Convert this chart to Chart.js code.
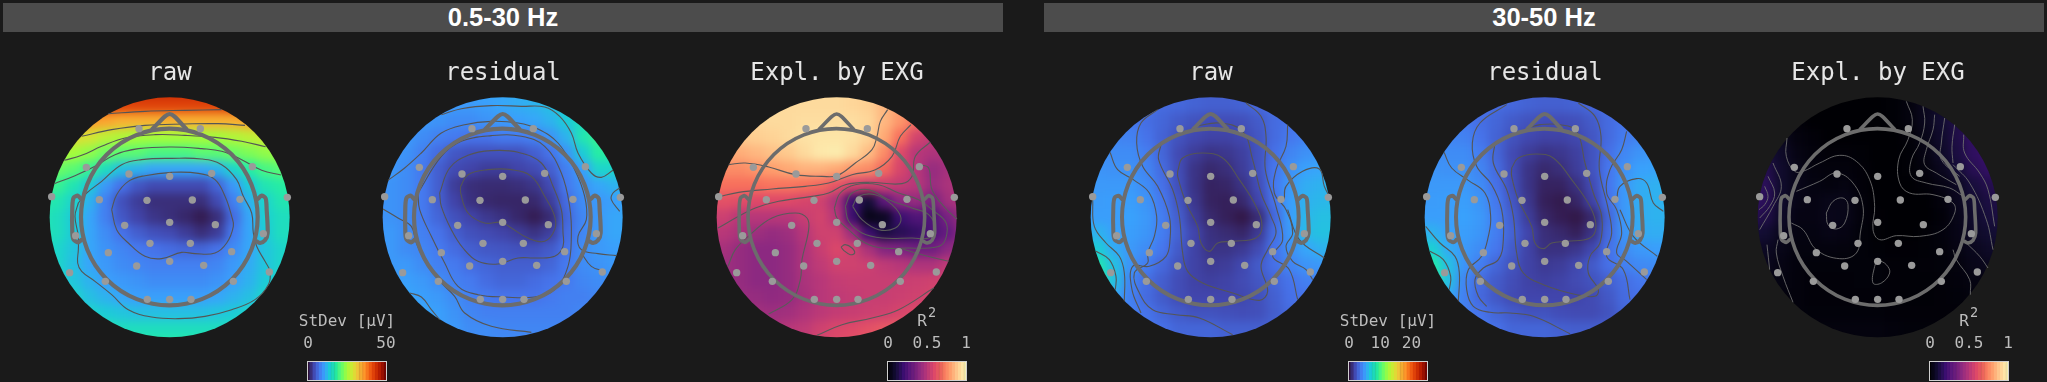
<!DOCTYPE html>
<html>
<head>
<meta charset="utf-8">
<title>Topomaps</title>
<script src="https://cdn.jsdelivr.net/npm/chart.js@4"></script>
<style>
  html, body { margin: 0; padding: 0; background: #1a1a1a; }
  body { position: relative; width: 2047px; height: 382px; overflow: hidden; }
  canvas { position: absolute; }
  .band {
    position: absolute; top: 3px; height: 29px; background: #4c4c4c;
    color: #fff; text-align: center;
    font: bold 25.5px/29px "Liberation Sans", Arial, sans-serif;
  }
</style>
</head>
<body>
<div class="band" style="left:3px;width:1000px">0.5-30 Hz</div>
<div class="band" style="left:1044px;width:1000px">30-50 Hz</div>
<script>
// cell centres of the heat grids, in head-plot units (3 units = 1 px, head outline radius 266)
const gridX = [-10, 38, 86, 134, 182, 230, 278, 326, 374, 422, 470, 518, 566, 614, 662, 710, 758];
const gridY = [-11, 37, 85, 133, 181, 229, 277, 325, 373, 421, 469, 517, 565, 613, 661, 709, 757];

const rawLow = [
  [46, 46, 46, 46, 46, 45, 45, 45, 45, 45, 45, 45, 46, 46, 46, 46, 46],
  [45, 45, 45, 44, 43, 42, 42, 42, 42, 42, 42, 42, 43, 44, 45, 45, 45],
  [40, 40, 38, 36, 35, 34, 34, 34, 34, 34, 34, 34, 34, 35, 37, 38, 38],
  [32, 31, 30, 29, 27, 26, 25, 25, 25, 25, 25, 25, 26, 27, 28, 29, 29],
  [27, 26, 25, 24, 22, 21, 21, 20, 20, 20, 21, 21, 22, 23, 24, 25, 25],
  [23, 22, 21, 19, 16, 13, 12, 11, 11, 11, 11, 12, 15, 18, 20, 21, 21],
  [20, 19, 17, 14, 10, 7, 5, 4, 4, 4, 4, 6, 10, 14, 17, 18, 18],
  [18, 17, 15, 12, 8, 4.5, 3, 2, 2, 2, 2, 4, 8, 12, 15, 17, 17],
  [17, 16, 14, 11, 8, 5, 3.5, 2.5, 2, 1.5, 0.7, 2, 6.5, 11, 14.5, 16, 16],
  [17, 16, 14, 11, 9, 7, 5.5, 4.5, 4, 3, 2, 3, 7.5, 11, 14, 16, 16],
  [17, 15, 13.5, 11, 9.5, 8.5, 7.5, 7, 6.5, 6, 6, 7, 9, 11, 13.5, 15, 16],
  [17, 15, 13, 11, 10, 9, 8.5, 8, 8, 8, 8, 8.5, 10, 11.5, 13.5, 15, 16],
  [17, 15.5, 13.5, 12, 10.5, 10, 9.5, 9, 9, 9, 9, 9.5, 10.5, 12, 14, 15, 16],
  [18, 16.5, 15, 13, 12, 11, 10.5, 10.5, 10.5, 10.5, 10.5, 11, 12, 13, 15, 16, 17],
  [18, 17, 16, 15, 14, 13.5, 13, 13, 13, 13, 13, 13.5, 14, 15, 16, 17, 17],
  [18, 18, 17, 17, 17, 16, 16, 16, 16, 16, 16, 16, 16, 17, 17, 18, 18],
  [18, 18, 18, 18, 18, 18, 18, 18, 18, 18, 18, 18, 18, 18, 18, 18, 18],
];
const residualLow = [
  [11, 11, 11, 11, 11, 11, 11, 11, 11, 11.5, 12, 13, 14, 15, 15, 15, 15],
  [11, 11, 11, 11, 10.5, 10, 10, 10.5, 11, 11.5, 12, 13, 14, 15, 15, 15, 15],
  [11, 11, 10.5, 10, 9.5, 9, 9, 9.5, 10, 10.5, 11, 12, 14, 16, 18, 18, 18],
  [10.5, 10.5, 10, 9, 8, 7.5, 7, 7, 7.5, 7.5, 8, 9.5, 12, 17, 19, 19, 19],
  [10, 10, 9.5, 8, 6.5, 5, 4.5, 4.5, 4.5, 4.5, 5.5, 7, 9.5, 14, 18, 18, 18],
  [10, 10, 9, 7.5, 5.5, 4, 3.5, 3, 3, 3.5, 4, 5.5, 8, 10.5, 15, 15, 15],
  [9.5, 9.5, 9, 7.5, 5.5, 3, 2, 1.8, 1.8, 2, 2.5, 4, 7.5, 9.5, 11, 12, 12],
  [9.5, 9.5, 9, 7.5, 5.5, 3.5, 2.2, 1.6, 1.4, 1.4, 1.6, 3, 6.5, 9, 10, 10.5, 11],
  [9.5, 9.5, 9, 7.5, 6, 4.5, 3.5, 2.7, 2.2, 1.5, 0.8, 1.8, 6, 8.5, 10, 11, 11],
  [10, 10, 9, 8, 7, 5.5, 4.5, 4, 3.5, 3, 2.3, 3.2, 6.5, 8.5, 10, 11, 11],
  [10, 10, 9, 8.5, 7.5, 6.5, 5.5, 5, 4.8, 4.5, 4.5, 5.2, 7, 9, 10, 10.5, 10.5],
  [10, 10, 10, 9, 8, 7.5, 6.5, 6, 5.5, 5.5, 5.5, 6, 7.5, 9, 9.5, 10, 10],
  [10.5, 10.5, 10.5, 10, 9, 8, 7.5, 6.5, 6, 6, 6.5, 7, 7.5, 8.5, 9, 9.5, 9.5],
  [11, 11, 11, 10.5, 10, 9, 8, 7.5, 7, 7, 7, 7.5, 8, 8, 8.5, 9, 9],
  [12, 12, 12, 11, 10.5, 9.5, 8.5, 8, 8, 8, 8, 8, 8, 8.5, 8.5, 9, 9],
  [12, 12, 12, 11.5, 10.5, 10, 9, 9, 8.5, 8.5, 8.5, 8.5, 8.5, 9, 9, 9, 9],
  [12, 12, 12, 11.5, 11, 10, 9.5, 9, 9, 9, 9, 9, 9, 9, 9, 9, 9],
];
const explLow = [
  [.93, .93, .93, .93, .93, .93, .93, .93, .93, .92, .9, .85, .8, .75, .7, .7, .7],
  [.93, .93, .93, .93, .93, .93, .93, .93, .93, .92, .9, .85, .8, .75, .7, .7, .7],
  [.92, .92, .92, .92, .93, .93, .94, .94, .94, .94, .92, .85, .78, .7, .62, .6, .6],
  [.88, .88, .89, .9, .91, .93, .95, .96, .96, .95, .91, .82, .7, .57, .52, .5, .5],
  [.82, .82, .83, .85, .87, .89, .93, .97, .98, .93, .86, .76, .6, .5, .48, .48, .48],
  [.76, .76, .76, .78, .8, .82, .84, .84, .82, .78, .76, .68, .58, .5, .42, .46, .48],
  [.7, .7, .7, .7, .71, .71, .7, .68, .63, .58, .55, .55, .53, .5, .43, .47, .5],
  [.62, .62, .61, .6, .6, .6, .58, .56, .47, .2, .1, .28, .4, .42, .35, .45, .5],
  [.55, .55, .5, .5, .5, .5, .54, .57, .5, .2, .04, .06, .2, .25, .25, .35, .45],
  [.52, .5, .47, .44, .42, .44, .5, .56, .56, .44, .2, .12, .15, .18, .25, .3, .43],
  [.47, .46, .42, .4, .4, .42, .48, .54, .59, .56, .47, .38, .36, .33, .33, .4, .47],
  [.45, .44, .42, .4, .4, .42, .48, .52, .56, .56, .55, .52, .5, .48, .48, .52, .55],
  [.43, .43, .42, .4, .4, .42, .47, .5, .53, .54, .54, .54, .54, .55, .56, .57, .58],
  [.43, .43, .43, .42, .41, .42, .46, .5, .52, .53, .54, .54, .55, .56, .58, .6, .6],
  [.45, .45, .45, .45, .44, .45, .48, .51, .53, .54, .55, .56, .58, .6, .62, .63, .63],
  [.48, .48, .48, .48, .48, .5, .52, .56, .59, .6, .62, .64, .66, .68, .68, .68, .68],
  [.5, .5, .5, .5, .5, .52, .55, .58, .6, .62, .64, .66, .68, .68, .68, .68, .68],
];
const rawHigh = [
  [3.8, 3.8, 3.8, 3.7, 3.5, 3.2, 3.1, 2.9, 2.8, 2.8, 2.9, 3.1, 3.4, 3.5, 3.5, 3.6, 3.6],
  [3.8, 3.8, 3.8, 3.7, 3.5, 3.2, 3.1, 2.9, 2.8, 2.8, 2.9, 3.1, 3.4, 3.5, 3.5, 3.6, 3.6],
  [3.8, 3.8, 3.8, 3.7, 3.3, 3, 2.6, 2.3, 2.1, 2.1, 2.2, 2.6, 3.2, 3.5, 3.7, 3.8, 3.8],
  [4.2, 4.2, 4.2, 4.1, 3.5, 2.9, 2.3, 1.9, 1.7, 1.7, 1.9, 2.4, 3.2, 3.7, 4.1, 4.3, 4.3],
  [4.6, 4.6, 4.5, 4.5, 3.9, 3, 2, 1.5, 1.2, 1.3, 1.6, 2.3, 3.4, 4.2, 4.7, 4.9, 4.9],
  [4.8, 4.8, 4.7, 4.7, 4.2, 3.2, 2.1, 1.2, .8, 1, 1.5, 2.3, 3.6, 4.7, 5.3, 5.5, 5.5],
  [5, 5, 5, 5, 4.5, 3.4, 2.2, 1.2, .6, .7, 1.2, 2.1, 3.7, 5, 5.8, 6, 6],
  [5.1, 5.1, 5.2, 5.2, 4.8, 3.7, 2.4, 1.3, .6, .5, .8, 1.8, 3.5, 5.2, 6, 6.2, 6.3],
  [5.2, 5.2, 5.2, 5.3, 5, 3.9, 2.7, 1.5, .8, .5, .2, .9, 3.1, 5.2, 6.2, 6.5, 6.5],
  [6, 6, 5.3, 5.2, 4.9, 3.9, 2.9, 1.8, 1.1, .9, .7, 1.4, 3.3, 5, 6.3, 6.6, 6.6],
  [7.5, 7, 5.7, 5, 4.5, 3.6, 2.6, 1.7, 1.2, 1.2, 1.4, 2, 3.5, 4.7, 5.5, 6, 6],
  [9.3, 8.5, 6.5, 4.8, 3.9, 3.1, 2.3, 1.7, 1.4, 1.5, 1.9, 2.6, 3.4, 4.2, 4.8, 5, 5],
  [9.5, 9, 6.5, 4.2, 3.3, 2.7, 2.1, 1.7, 1.6, 1.7, 2, 2.4, 3, 3.5, 4, 4, 4],
  [7, 6.5, 5.5, 4, 3.2, 2.6, 2.1, 1.8, 1.8, 1.8, 1.9, 2.2, 2.8, 3.4, 3.5, 3.5, 3.5],
  [4.5, 4.5, 4.5, 4, 3.5, 3, 2.6, 2.3, 2.3, 2.2, 2.1, 2.2, 2.7, 3.2, 3.4, 3.4, 3.4],
  [4.2, 4.2, 4.2, 4, 3.8, 3.4, 3, 3, 3, 2.8, 2.8, 2.8, 2.9, 3.2, 3.3, 3.3, 3.3],
  [4.2, 4.2, 4.2, 4, 3.8, 3.5, 3.2, 3, 3, 3, 3, 3, 3, 3.2, 3.3, 3.3, 3.3],
];
const residualHigh = [
  [3.8, 3.8, 3.8, 3.7, 3.5, 3.2, 3.1, 2.9, 2.8, 2.8, 2.9, 3.1, 3.4, 3.6, 3.6, 3.7, 3.7],
  [3.8, 3.8, 3.8, 3.7, 3.5, 3.2, 3.1, 2.9, 2.8, 2.8, 2.9, 3.1, 3.4, 3.6, 3.6, 3.7, 3.7],
  [3.9, 3.9, 3.8, 3.7, 3.3, 3, 2.6, 2.3, 2.1, 2.1, 2.2, 2.6, 3.2, 3.6, 3.8, 3.9, 3.9],
  [4.3, 4.3, 4.2, 4.1, 3.5, 2.9, 2.3, 1.9, 1.7, 1.7, 1.9, 2.4, 3.2, 3.8, 4.2, 4.4, 4.4],
  [4.6, 4.6, 4.5, 4.5, 3.9, 3, 2, 1.5, 1.2, 1.3, 1.6, 2.3, 3.4, 4.3, 4.8, 5, 5],
  [4.8, 4.8, 4.7, 4.7, 4.2, 3.2, 2.1, 1.2, .8, 1, 1.5, 2.3, 3.6, 4.7, 5.3, 5.4, 5.5],
  [5, 5, 5, 5, 4.5, 3.4, 2.2, 1.2, .6, .6, 1.1, 2, 3.6, 5, 5.7, 5.9, 6],
  [5.1, 5.1, 5.2, 5.2, 4.8, 3.7, 2.4, 1.3, .5, .3, .7, 1.7, 3.4, 5, 5.8, 6, 6],
  [5.2, 5.2, 5.2, 5.3, 5, 3.9, 2.7, 1.5, .7, .4, .2, .8, 3, 5, 5.8, 6, 6],
  [6, 6, 5.3, 5.2, 4.9, 3.9, 2.9, 1.8, 1, .8, .5, 1.2, 3.2, 4.8, 5.7, 5.8, 5.8],
  [7.5, 7.2, 5.7, 5, 4.5, 3.6, 2.6, 1.7, 1.1, 1.1, 1.3, 1.9, 3.4, 4.5, 5, 5.2, 5.2],
  [9.5, 8.8, 6.5, 4.8, 3.9, 3, 2.3, 1.7, 1.4, 1.5, 1.9, 2.6, 3.4, 4, 4.4, 4.5, 4.5],
  [9.8, 9.2, 6.5, 4.2, 3.2, 2.6, 2.1, 1.7, 1.6, 1.7, 2, 2.3, 2.8, 3.3, 3.7, 3.8, 3.8],
  [7, 6.5, 5.5, 4, 3.1, 2.5, 2, 1.8, 1.8, 1.8, 1.8, 2, 2.5, 3.2, 3.4, 3.4, 3.4],
  [4.5, 4.5, 4.5, 4, 3.5, 3, 2.6, 2.3, 2.3, 2.1, 2, 2, 2.3, 3, 3.3, 3.3, 3.3],
  [4.2, 4.2, 4.2, 4, 3.8, 3.4, 3, 3, 3, 2.8, 2.7, 2.7, 2.8, 3.1, 3.3, 3.3, 3.3],
  [4.2, 4.2, 4.2, 4, 3.8, 3.5, 3.2, 3, 3, 3, 3, 3, 3, 3.2, 3.3, 3.3, 3.3],
];
const explHigh = [
  [.03, .03, .02, .01, 0, 0, 0, 0, 0, .005, .02, .05, .08, .1, .1, .1, .1],
  [.03, .03, .02, .01, 0, 0, 0, 0, 0, .005, .02, .05, .08, .1, .1, .1, .1],
  [.06, .05, .03, .01, 0, 0, 0, 0, 0, .005, .02, .05, .09, .13, .15, .15, .15],
  [.08, .07, .05, .02, .01, 0, 0, 0, 0, 0, .01, .04, .08, .13, .18, .18, .18],
  [.12, .11, .07, .03, .015, .01, .01, .005, 0, 0, .005, .03, .07, .12, .17, .2, .2],
  [.15, .14, .08, .04, .02, .015, .015, .01, 0, 0, .005, .02, .05, .1, .15, .18, .18],
  [.17, .16, .08, .04, .025, .02, .025, .01, 0, 0, 0, .01, .03, .06, .11, .14, .15],
  [.18, .16, .08, .035, .03, .04, .04, .015, 0, 0, 0, 0, .015, .05, .09, .12, .13],
  [.15, .13, .07, .03, .03, .045, .04, .015, .003, 0, 0, 0, .01, .04, .08, .11, .12],
  [.11, .09, .05, .025, .025, .035, .03, .012, .004, 0, 0, .005, .015, .035, .07, .09, .1],
  [.08, .06, .04, .02, .02, .02, .018, .012, .006, .003, .003, .006, .012, .03, .05, .07, .07],
  [.06, .05, .03, .015, .012, .012, .012, .012, .012, .008, .005, .008, .012, .02, .04, .05, .05],
  [.05, .04, .025, .015, .01, .01, .01, .012, .012, .008, .005, .006, .01, .015, .025, .03, .03],
  [.04, .03, .02, .015, .01, .01, .01, .01, .01, .008, .005, .005, .008, .012, .02, .02, .02],
  [.03, .03, .02, .015, .012, .012, .012, .012, .012, .01, .008, .008, .008, .01, .012, .015, .015],
  [.03, .03, .025, .02, .02, .02, .02, .02, .02, .015, .012, .012, .012, .012, .012, .012, .012],
  [.03, .03, .025, .02, .02, .02, .02, .02, .02, .015, .012, .012, .012, .012, .012, .012, .012],
];

// contour lines, traced as [x, y] in the same units
const contoursRawLow = [
  [[190, 62], [300, 55], [420, 52], [530, 50]],
  [[110, 130], [200, 110], [300, 97], [420, 93], [520, 92], [600, 97]],
  [[58, 202], [110, 187], [170, 160], [240, 135], [330, 125], [420, 127], [510, 133], [590, 145], [662, 161]],
  [[28, 272], [90, 248], [150, 220], [210, 185], [280, 167], [380, 162], [470, 167], [530, 175], [590, 200], [650, 232], [708, 246]],
  [[100, 330], [125, 300], [170, 265], [230, 215], [290, 200], [380, 196], [470, 198], [530, 215], [575, 260], [595, 310], [620, 360], [625, 420], [635, 460], [660, 505], [675, 535], [670, 575], [630, 620], [560, 650], [480, 670], [400, 677], [320, 672], [250, 650], [200, 605], [150, 565], [110, 535], [98, 510], [100, 470], [100, 430], [90, 370], [100, 330]],
  [[200, 350], [215, 305], [250, 265], [300, 248], [380, 238], [460, 241], [510, 260], [540, 310], [560, 370], [565, 400], [545, 450], [510, 480], [450, 482], [410, 478], [350, 497], [300, 490], [250, 450], [215, 410], [200, 350]],
];
const contoursResidualLow = [
  [[190, 65], [250, 47], [340, 38], [430, 40], [500, 42], [545, 70], [580, 120], [600, 180], [640, 240], [670, 253], [705, 232]],
  [[30, 262], [80, 225], [130, 180], [190, 120], [260, 95], [340, 85], [420, 90], [480, 108], [540, 150], [590, 230], [620, 310], [625, 380], [600, 430], [610, 470], [660, 482], [715, 488]],
  [[120, 300], [190, 190], [250, 145], [340, 128], [430, 130], [500, 160], [550, 240], [575, 340], [580, 430], [570, 520], [530, 590], [470, 612], [380, 612], [300, 605], [240, 580], [200, 510], [160, 430], [125, 350], [120, 300]],
  [[185, 300], [215, 225], [270, 187], [340, 173], [420, 178], [490, 210], [525, 280], [550, 350], [555, 420], [555, 460], [530, 490], [470, 495], [420, 495], [360, 513], [300, 505], [255, 465], [220, 410], [190, 340], [185, 300]],
  [[248, 280], [270, 245], [330, 230], [400, 230], [460, 250], [500, 310], [530, 370], [530, 410], [500, 445], [450, 435], [400, 405], [370, 388], [320, 390], [270, 360], [248, 300], [248, 280]],
  [[15, 348], [60, 375], [100, 400], [115, 450], [150, 520], [190, 570], [230, 610], [260, 660], [340, 700], [460, 718]],
  [[95, 600], [130, 612], [160, 650], [185, 680]],
  [[725, 285], [705, 300], [700, 320], [725, 355]],
  [[610, 480], [640, 520], [680, 535]],
];
const contoursExplLow = [
  [[50, 215], [100, 210], [170, 222], [250, 245], [330, 250], [375, 248], [430, 210], [480, 170], [495, 130], [505, 85], [527, 50]],
  [[15, 313], [80, 298], [180, 288], [280, 280], [350, 270], [420, 245], [490, 230], [540, 190], [565, 130], [597, 95]],
  [[18, 405], [80, 370], [130, 345], [200, 325], [300, 310], [350, 300], [400, 275], [470, 268], [570, 272], [600, 250], [610, 190], [655, 147]],
  [[367, 345], [385, 300], [430, 275], [500, 275], [560, 300], [620, 320], [660, 350], [700, 385], [705, 420], [690, 455], [650, 465], [590, 465], [510, 465], [460, 450], [410, 410], [375, 375], [367, 345]],
  [[400, 340], [420, 300], [470, 290], [530, 320], [600, 345], [650, 365], [670, 410], [650, 435], [600, 435], [510, 435], [450, 420], [410, 385], [400, 340]],
  [[422, 340], [440, 310], [490, 305], [540, 335], [567, 375], [550, 405], [500, 410], [450, 380], [422, 340]],
  [[48, 520], [70, 470], [120, 420], [180, 375], [250, 360], [285, 375], [290, 410], [270, 500], [265, 560], [240, 620], [170, 663]],
  [[387, 462], [400, 455], [420, 465], [428, 480], [415, 485], [395, 472], [387, 462]],
  [[315, 727], [390, 695], [480, 675], [560, 650], [665, 585]],
  [[625, 215], [650, 225], [660, 290], [700, 345], [735, 378]],
  [[560, 465], [630, 485], [710, 505]],
];
const contoursRawHigh = [
  [[72, 178], [95, 230], [145, 262], [190, 300], [212, 370], [205, 430], [185, 480], [185, 510], [145, 540], [160, 600], [200, 650], [270, 665], [340, 675], [440, 725]],
  [[215, 50], [165, 90], [152, 150], [170, 220], [215, 280], [250, 370], [252, 440], [240, 490], [190, 520], [140, 520], [138, 590], [165, 660]],
  [[225, 155], [218, 200], [260, 290], [280, 370], [290, 480], [305, 535], [350, 570], [440, 600], [520, 622], [545, 595], [525, 520], [545, 470], [570, 420], [555, 370], [525, 300], [500, 200], [470, 115], [400, 90], [330, 100]],
  [[275, 235], [290, 195], [350, 180], [410, 195], [460, 260], [510, 340], [528, 400], [510, 435], [440, 445], [395, 450], [370, 475], [345, 450], [335, 400], [300, 330], [275, 250], [275, 235]],
  [[480, 30], [525, 70], [540, 130], [538, 230], [570, 340], [590, 440], [560, 490], [610, 530], [635, 620]],
  [[605, 95], [600, 160], [570, 230], [565, 300], [600, 350], [620, 420], [600, 460], [620, 505], [660, 530], [680, 560]],
  [[595, 320], [600, 280], [650, 235], [700, 228], [715, 280], [735, 320]],
  [[605, 350], [640, 440], [715, 495]],
  [[20, 320], [25, 400], [60, 450], [100, 490], [115, 540], [115, 625]],
  [[30, 475], [70, 500], [90, 550], [88, 590]],
];
const contoursResidualHigh = [
  [[72, 178], [95, 225], [145, 262], [195, 300], [212, 370], [205, 430], [185, 490], [145, 530], [140, 590], [160, 640], [210, 658], [270, 660], [340, 670], [450, 722]],
  [[260, 35], [180, 90], [157, 150], [170, 220], [215, 275], [245, 350], [250, 440], [235, 500], [190, 525], [165, 560], [175, 610], [200, 640]],
  [[225, 150], [220, 210], [260, 290], [280, 370], [290, 480], [310, 540], [370, 575], [470, 605], [525, 610], [535, 590], [505, 540], [510, 490], [540, 450], [545, 370], [520, 300], [495, 210], [470, 115], [420, 95], [360, 95], [325, 105]],
  [[275, 225], [295, 195], [350, 183], [400, 195], [455, 260], [510, 340], [528, 400], [510, 435], [440, 445], [395, 450], [370, 467], [345, 450], [335, 400], [295, 320], [275, 250], [275, 225]],
  [[475, 30], [525, 70], [543, 130], [538, 230], [565, 350], [575, 420], [560, 490], [610, 530], [630, 620]],
  [[620, 115], [605, 170], [570, 230], [560, 300], [590, 350], [605, 420], [590, 480], [620, 505], [680, 560]],
  [[590, 320], [600, 280], [650, 257], [680, 270], [700, 330], [730, 355]],
  [[600, 350], [640, 430], [712, 490]],
  [[17, 400], [60, 450], [105, 490], [118, 540], [115, 625]],
  [[30, 475], [70, 500], [92, 550], [88, 590]],
];
const contoursExplHigh = [
  [[460, 25], [478, 80], [465, 140], [437, 200], [440, 270], [470, 300], [540, 305], [600, 330], [605, 360], [570, 410], [500, 430], [430, 428], [380, 440], [360, 410], [365, 340], [350, 260], [310, 205], [260, 187], [200, 210], [150, 235], [125, 235], [100, 190], [102, 135]],
  [[510, 40], [515, 90], [500, 150], [475, 200], [475, 250], [520, 270], [590, 285], [630, 310]],
  [[545, 65], [540, 110], [520, 170], [515, 215], [550, 240], [610, 275]],
  [[575, 75], [565, 150], [565, 200], [620, 250]],
  [[605, 95], [597, 160], [600, 210]],
  [[632, 125], [635, 180], [680, 240], [705, 290], [725, 400]],
  [[600, 215], [650, 270], [700, 380], [720, 470]],
  [[600, 470], [610, 500], [650, 560], [652, 605]],
  [[640, 450], [680, 490], [705, 525]],
  [[60, 210], [85, 280], [60, 340], [20, 410]],
  [[45, 250], [65, 300], [50, 340], [20, 375]],
  [[35, 280], [45, 310], [35, 335], [18, 350]],
  [[115, 390], [150, 410], [190, 470], [260, 497], [310, 480], [322, 420], [330, 340], [300, 270], [250, 240], [200, 265], [130, 295]],
  [[220, 360], [240, 325], [270, 315], [285, 335], [275, 390], [250, 408], [225, 395], [220, 360]],
  [[75, 440], [70, 480], [90, 550], [120, 628]],
  [[42, 455], [50, 530]],
  [[375, 500], [400, 515], [410, 540], [385, 570], [360, 570], [365, 520], [375, 500]],
];

// 32 electrodes, same montage on every map
const sensors = [
  [282, 107], [466, 107], [124, 223], [622, 221], [252, 243], [374, 250], [500, 241], [20, 311],
  [727, 313], [163, 320], [306, 322], [442, 321], [585, 319], [239, 397], [374, 388], [511, 395],
  [92, 428], [655, 422], [315, 451], [436, 451], [190, 479], [560, 476], [275, 519], [374, 505],
  [476, 517], [74, 539], [673, 537], [181, 565], [565, 565], [307, 619], [374, 619], [438, 619],
];
const nose = [[322, 108], [360, 70], [374, 63], [388, 70], [424, 108]];
const earLeft = [[108, 318], [98, 308], [86, 314], [82, 340], [82, 420], [86, 440], [100, 448], [110, 440]];
const earRight = [[638, 318], [650, 308], [662, 316], [665, 350], [668, 420], [660, 442], [645, 450], [635, 445]];

// colour maps as stops
const turboStops = ["#30123b", "#4145ab", "#4675ed", "#39a2fc", "#1bcfd4", "#24eca6", "#61fc6c", "#a4fc3b", "#d1e834", "#f3c63a", "#fe9b2d", "#f36315", "#d93806", "#b11901", "#7a0402"];
const magmaStops = ["#000004", "#140e36", "#3b0f70", "#641a80", "#8c2981", "#b73779", "#de4968", "#f7705c", "#fe9f6d", "#fecf92", "#fcf3b5"];

// colour bar steps
const stepsLow = [0, 2, 4, 6, 8, 10, 12, 14, 16, 18, 20, 22, 24, 26, 28, 30, 32, 34, 36, 38, 40, 42, 44, 46, 48, 50];
const stepsHigh = [0, 1, 2, 3, 4, 5, 6, 7, 8, 9, 10, 11, 12, 13, 14, 15, 16, 17, 18, 19, 20, 21, 22, 23, 24, 25];
const stepsR2 = [0, .04, .08, .12, .16, .2, .24, .28, .32, .36, .4, .44, .48, .52, .56, .6, .64, .68, .72, .76, .8, .84, .88, .92, .96, 1];

function hexRgb(h) {
  return [1, 3, 5].map((i) => parseInt(h.substr(i, 2), 16));
}
function mapColor(stops, f) {
  f = Math.min(1, Math.max(0, f)) * (stops.length - 1);
  const i = Math.min(stops.length - 2, Math.floor(f));
  const a = hexRgb(stops[i]), b = hexRgb(stops[i + 1]), t = f - i;
  return "rgb(" + a.map((v, k) => Math.round(v + (b[k] - v) * t)).join(",") + ")";
}
const xy = (p) => ({ x: p[0], y: p[1] });

// smooths the heat cells of the first drawn dataset and cuts them to the round scalp
const blurHeat = {
  id: "blurHeat",
  afterDatasetDraw(chart, args) {
    if (chart.data.datasets[args.index].label !== "heat") return;
    const { ctx, canvas, chartArea, scales } = chart;
    const copy = document.createElement("canvas");
    copy.width = canvas.width;
    copy.height = canvas.height;
    copy.getContext("2d").drawImage(canvas, 0, 0);
    ctx.save();
    ctx.clearRect(chartArea.left, chartArea.top, chartArea.width, chartArea.height);
    ctx.beginPath();
    const r = scales.x.getPixelForValue(734) - scales.x.getPixelForValue(374);
    ctx.arc(scales.x.getPixelForValue(374), scales.y.getPixelForValue(373), r, 0, Math.PI * 2);
    ctx.clip();
    ctx.filter = "blur(5px)";
    ctx.drawImage(copy, 0, 0);
    ctx.restore();
  },
};

function topomap(id, left, title, grid, contours, vmax, stops, contourColor, contourWidth, headWidth) {
  const cells = [];
  const colors = [];
  grid.forEach((row, j) => {
    row.forEach((v, i) => {
      cells.push({ x: gridX[i], y: gridY[j] });
      colors.push(mapColor(stops, v / vmax));
    });
  });
  const datasets = [
    {
      label: "heat",
      data: cells,
      order: 10,
      pointStyle: "rect",
      backgroundColor: colors,
      borderWidth: 0,
      pointRadius: (c) => (c.chart.scales.x.getPixelForValue(48) - c.chart.scales.x.getPixelForValue(0)) * 0.74,
    },
  ];
  contours.forEach((line, k) => {
    datasets.push({
      label: "contour " + k,
      type: "line",
      data: line.map(xy),
      order: 5,
      borderColor: contourColor,
      borderWidth: contourWidth,
      pointRadius: 0,
      tension: 0.4,
      fill: false,
    });
  });
  [nose, earLeft, earRight].forEach((line, k) => {
    datasets.push({
      label: "outline " + k,
      type: "line",
      data: line.map(xy),
      order: 3,
      borderColor: "#6c6c6c",
      borderWidth: headWidth,
      borderCapStyle: "round",
      borderJoinStyle: "round",
      pointRadius: 0,
      tension: 0.25,
      fill: false,
    });
  });
  datasets.push({
    label: "head",
    data: [{ x: 373, y: 372 }],
    order: 2,
    pointStyle: "circle",
    backgroundColor: "transparent",
    borderColor: "#6c6c6c",
    borderWidth: headWidth,
    pointRadius: (c) => c.chart.scales.x.getPixelForValue(265) - c.chart.scales.x.getPixelForValue(0),
  });
  datasets.push({
    label: "sensors",
    data: sensors.map(xy),
    order: 1,
    pointStyle: "circle",
    backgroundColor: "#9a9a9a",
    borderWidth: 0,
    pointRadius: 3.7,
  });

  const cv = document.createElement("canvas");
  cv.id = id;
  cv.width = 290;
  cv.height = 323;
  cv.style.left = left - 20 + "px";
  cv.style.top = "40px";
  document.body.appendChild(cv);
  new Chart(cv.getContext("2d"), {
    type: "scatter",
    data: { datasets: datasets },
    options: {
      responsive: false,
      animation: false,
      events: [],
      layout: { padding: 0, autoPadding: false },
      scales: {
        x: { type: "linear", min: -60, max: 810, display: false },
        y: { type: "linear", min: -21, max: 810, reverse: true, display: false },
      },
      plugins: {
        legend: { display: false },
        tooltip: { enabled: false },
        title: {
          display: true,
          text: title,
          color: "#e6e6e6",
          font: { family: "'DejaVu Sans Mono'", size: 24, weight: "normal", lineHeight: 1 },
          padding: { top: 22, bottom: 0 },
        },
      },
    },
    plugins: [blurHeat],
  });
}

function colorbar(id, left, label, sup, steps, ticks, vmax, stops) {
  const cv = document.createElement("canvas");
  cv.id = id;
  cv.width = 178;
  cv.height = 78;
  cv.style.left = left - 50 + "px";
  cv.style.top = "304px";
  document.body.appendChild(cv);
  new Chart(cv.getContext("2d"), {
    type: "bar",
    data: {
      datasets: [
        {
          data: steps.map((s) => ({ x: s, y: 1 })),
          backgroundColor: steps.map((s) => mapColor(stops, s / vmax)),
          borderColor: steps.map((s) => mapColor(stops, s / vmax)),
          borderWidth: 1,
          barPercentage: 1,
          categoryPercentage: 1,
        },
      ],
    },
    options: {
      responsive: false,
      animation: false,
      events: [],
      layout: { padding: { left: 0, right: 0, top: 0, bottom: 2 }, autoPadding: false },
      scales: {
        x: {
          type: "linear",
          position: "top",
          offset: false,
          min: 0,
          max: vmax,
          grid: { display: false, drawTicks: false },
          border: { display: false },
          afterBuildTicks: (scale) => {
            scale.ticks = ticks.map((t) => ({ value: t }));
          },
          afterFit: (scale) => {
            scale.paddingLeft = 50;
            scale.paddingRight = 50;
            scale.height = 28.7;
          },
          ticks: {
            color: "#bdbdbd",
            autoSkip: false,
            maxRotation: 0,
            padding: 8.5,
            font: { family: "'DejaVu Sans Mono'", size: 16 },
            callback: (v) => String(v),
          },
        },
        y: { min: 0, max: 1, display: false },
      },
      plugins: {
        legend: { display: false },
        tooltip: { enabled: false },
        title: {
          display: true,
          text: label,
          color: "#bdbdbd",
          font: { family: "'DejaVu Sans Mono'", size: 16, weight: "normal", lineHeight: 1 },
          padding: { top: 10, bottom: 3.3 },
        },
      },
    },
    plugins: [
      {
        id: "barFrame",
        afterDatasetsDraw(chart) {
          const a = chart.chartArea;
          const c = chart.ctx;
          c.save();
          c.strokeStyle = "#d0d0d0";
          c.lineWidth = 1;
          c.strokeRect(a.left - 0.5, a.top - 0.5, a.width + 1, a.height + 1);
          if (sup) {
            c.fillStyle = "#bdbdbd";
            c.font = "13.5px 'DejaVu Sans Mono'";
            c.textAlign = "center";
            c.textBaseline = "middle";
            c.fillText(sup, a.left + a.width / 2 + 5, 9);
          }
          c.restore();
        },
      },
    ],
  });
}

topomap("rawLow", 45, "raw", rawLow, contoursRawLow, 50, turboStops, "#555555", 1.1, 4.2);
topomap("residualLow", 378, "residual", residualLow, contoursResidualLow, 50, turboStops, "#555555", 1.1, 4.2);
topomap("explLow", 711.5, "Expl. by EXG", explLow, contoursExplLow, 1, magmaStops, "#5a5a5a", 1.1, 3.6);
topomap("rawHigh", 1086, "raw", rawHigh, contoursRawHigh, 25, turboStops, "#555555", 1.1, 4);
topomap("residualHigh", 1420, "residual", residualHigh, contoursResidualHigh, 25, turboStops, "#555555", 1.1, 4);
topomap("explHigh", 1753, "Expl. by EXG", explHigh, contoursExplHigh, 1, magmaStops, "#6e6e6e", 0.9, 3.6);

colorbar("barLow", 308, "StDev [µV]", "", stepsLow, [0, 50], 50, turboStops);
colorbar("barR2Low", 888, "R ", "2", stepsR2, [0, 0.5, 1], 1, magmaStops);
colorbar("barHigh", 1349, "StDev [µV]", "", stepsHigh, [0, 10, 20], 25, turboStops);
colorbar("barR2High", 1930, "R ", "2", stepsR2, [0, 0.5, 1], 1, magmaStops);
</script>
</body>
</html>
